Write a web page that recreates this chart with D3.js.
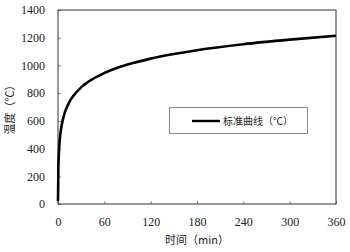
<!DOCTYPE html>
<html>
<head>
<meta charset="utf-8">
<script src="https://cdn.jsdelivr.net/npm/d3@7"></script>
<style>
  body { margin: 0; background: #fff; }
  svg text.num { font-family: "Liberation Serif", "DejaVu Serif", serif; font-size: 12px; }
  svg text.cjk { font-family: "Noto Sans CJK SC", sans-serif; }
</style>
</head>
<body>
<div id="chart"></div>
<script>
// values
var times = [0, 0.5, 1, 2, 3, 5, 7.5, 10, 15, 20, 30, 45, 60, 90, 120, 150, 180, 240, 300, 360];
var temps = [20, 261, 349, 445, 502, 576, 635, 678, 739, 781, 842, 902, 945, 1006, 1049, 1082, 1110, 1153, 1186, 1214];
var xTicks = [0, 60, 120, 180, 240, 300, 360];
var yTicks = [0, 200, 400, 600, 800, 1000, 1200, 1400];
var legendLabel = "标准曲线（℃）";

var width = 350, height = 252;
var margin = {top: 10, right: 14, bottom: 48, left: 58};

var svg = d3.select("#chart").append("svg")
    .attr("width", width)
    .attr("height", height);

// scales
var xScale = d3.scaleLinear()
    .domain([0, 360])
    .range([margin.left, width - margin.right]);
var yScale = d3.scaleLinear()
    .domain([0, 1400])
    .range([height - margin.bottom, margin.top]);

// ticks point inward
var xAxis = svg.append("g")
    .attr("transform", "translate(0," + yScale(0) + ")")
    .call(d3.axisBottom(xScale).tickValues(xTicks).tickFormat(d3.format("d"))
        .tickSize(-3).tickPadding(13));
var yAxis = svg.append("g")
    .attr("transform", "translate(" + xScale(0) + ",0)")
    .call(d3.axisLeft(yScale).tickValues(yTicks).tickFormat(d3.format("d"))
        .tickSize(-3).tickPadding(13));

[xAxis, yAxis].forEach(function(g) {
    g.attr("font-family", null).attr("font-size", null);
    g.select(".domain").remove();
    g.selectAll("line").attr("stroke", "#888");
    g.selectAll("text").attr("class", "num").attr("fill", "#222");
});

// frame
svg.append("rect")
    .attr("x", xScale(0)).attr("y", yScale(1400))
    .attr("width", xScale(360) - xScale(0))
    .attr("height", yScale(0) - yScale(1400))
    .attr("fill", "none")
    .attr("stroke", "#333")
    .attr("stroke-width", 1);

// curve
var datum = times.map(function(t, i) { return [t, temps[i]]; });
var line = d3.line()
    .curve(d3.curveMonotoneX)
    .x(function(d) { return xScale(d[0]); })
    .y(function(d) { return yScale(d[1]); });
svg.append("path")
    .datum(datum)
    .attr("d", line)
    .attr("fill", "none")
    .attr("stroke", "#000")
    .attr("stroke-width", 2.6);

// legend
var lg = svg.append("g");
lg.append("rect")
    .attr("x", 169.5).attr("y", 107.5)
    .attr("width", 138).attr("height", 26)
    .attr("fill", "#fff")
    .attr("stroke", "#888");
lg.append("line")
    .attr("x1", 192).attr("x2", 220)
    .attr("y1", 121).attr("y2", 121)
    .attr("stroke", "#000").attr("stroke-width", 2.4);
lg.append("text")
    .attr("class", "cjk")
    .attr("x", 223).attr("y", 125)
    .attr("font-size", 10)
    .attr("fill", "#222")
    .text(legendLabel);

// axis titles
svg.append("text")
    .attr("class", "cjk")
    .attr("x", xScale(180)).attr("y", 244)
    .attr("text-anchor", "middle")
    .attr("font-size", 11)
    .attr("fill", "#222")
    .text("时间（min）");
svg.append("text")
    .attr("class", "cjk")
    .attr("transform", "translate(14," + yScale(700) + ") rotate(-90)")
    .attr("text-anchor", "middle")
    .attr("font-size", 11)
    .attr("fill", "#222")
    .text("温度（℃）");
</script>
</body>
</html>
